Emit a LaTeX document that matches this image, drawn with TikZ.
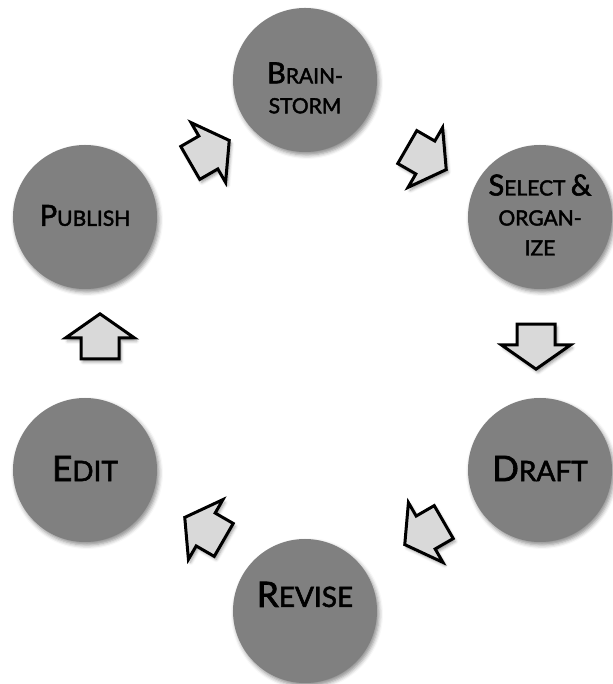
\documentclass[tikz,border=0pt]{standalone}
\usepackage{fontspec}
\newfontfamily\stagefont{Lato}[FakeBold=2]
\usetikzlibrary{positioning,calc}
\usetikzlibrary{shapes.arrows}
\usetikzlibrary{shadows.blur}

\definecolor{stagegray}{RGB}{128,128,128}
\definecolor{flowgray}{RGB}{217,217,217}

% fake small caps: capital letter and small capitals
\newcommand{\upcap}[1]{{\fontsize{\capsz}{\capsz}\selectfont #1}}
\newcommand{\lowcap}[1]{{\fontsize{\lowsz}{\lowsz}\selectfont #1}}

\tikzset{
  stage/.style={circle, fill=stagegray, minimum size=144pt, inner sep=0pt,
    blur shadow={shadow xshift=2pt, shadow yshift=-3pt,
      shadow blur radius=4pt, shadow opacity=45}},
  smalllabel/.style={align=center, inner sep=0pt,
    font=\stagefont\def\capsz{29pt}\def\lowsz{21pt}\fontsize{21pt}{30pt}\selectfont},
  biglabel/.style={align=center, inner sep=0pt,
    font=\stagefont\def\capsz{35pt}\def\lowsz{28pt}\fontsize{28pt}{34pt}\selectfont},
  flow/.style={single arrow, draw=black, line width=3pt, fill=flowgray,
    minimum height=45pt, inner xsep=0pt, inner ysep=17.5pt,
    single arrow head extend=15.5pt, single arrow tip angle=110,
    blur shadow={shadow xshift=2pt, shadow yshift=-3pt,
      shadow blur radius=3pt, shadow opacity=40}}
}

\begin{document}
\begin{tikzpicture}[x=1pt, y=1pt, on grid]
   \useasboundingbox (0,0) rectangle (612,684);

   % the six stages
   \node[stage]                                     (brain)   at (305,604) {};
   \node[stage, below right=137pt and 235pt of brain] (select)  {};
   \node[stage, below=253pt of select]              (draft)   {};
   \node[stage, below left=141pt and 235pt of draft] (revise)  {};
   \node[stage, above left=141pt and 220pt of revise] (edit)   {};
   \node[stage, above=253pt of edit]                (publish) {};

   % stage names
   \node[smalllabel] (brain-t)   at ($(brain)+(0,-8)$)
      {\upcap{B}\lowcap{RAIN-}\\\lowcap{STORM}};
   \node[smalllabel] (select-t)  at ($(select)+(0,2)$)
      {\upcap{S}\lowcap{ELECT }\upcap{\&}\\\lowcap{ORGAN-}\\\lowcap{IZE}};
   \node[biglabel]   (draft-t)   at ($(draft)+(0,1.5)$)
      {\upcap{D}\lowcap{RAFT}};
   \node[biglabel]   (revise-t)  at ($(revise)+(0,16.5)$)
      {\upcap{R}\lowcap{EVISE}};
   \node[biglabel]   (edit-t)    at ($(edit)+(0,1.5)$)
      {\upcap{E}\lowcap{DIT}};
   \node[smalllabel] (publish-t) at ($(publish)+(0,1.5)$)
      {\upcap{P}\lowcap{UBLISH}};

   % block arrows between the stages
   \node[flow, rotate=30]   (f1) at ($(publish)!0.5!(brain)+(9,-6.5)$) {};
   \node[flow, rotate=-30]  (f2) at ($(brain)!0.5!(select)+(-1.5,-6.5)$) {};
   \node[flow, rotate=-90]  (f3) at ($(select)!0.5!(draft)+(-4,3.5)$) {};
   \node[flow, rotate=-150] (f4) at ($(draft)!0.5!(revise)+(7.5,10.5)$) {};
   \node[flow, rotate=150]  (f5) at ($(revise)!0.5!(edit)+(15,8.5)$) {};
   \node[flow, rotate=90]   (f6) at ($(edit)!0.5!(publish)+(15,0.5)$) {};
\end{tikzpicture}
\end{document}
